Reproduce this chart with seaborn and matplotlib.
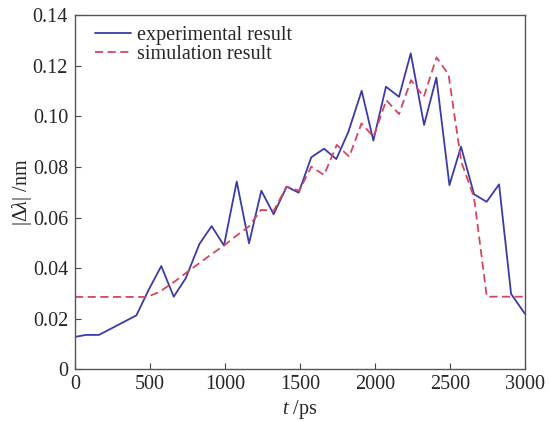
import matplotlib
matplotlib.use("Agg")
import matplotlib.pyplot as plt
import seaborn as sns
import pandas as pd

# experimental result
exp_t = [0, 73, 160, 409, 490, 575, 658, 738, 829, 911, 993, 1078, 1160, 1242,
         1324, 1411, 1491, 1575, 1660, 1742, 1822, 1911, 1989, 2073, 2160, 2238,
         2327, 2409, 2496, 2573, 2660, 2744, 2827, 2907, 3000]
exp_v = [0.0128, 0.0136, 0.0136, 0.0213, 0.0313, 0.0408, 0.0287, 0.0360, 0.0495,
         0.0566, 0.0489, 0.0742, 0.0498, 0.0706, 0.0613, 0.0722, 0.0698, 0.0838,
         0.0872, 0.0831, 0.0938, 0.1101, 0.0904, 0.1117, 0.1077, 0.1249, 0.0966,
         0.1153, 0.0728, 0.0880, 0.0692, 0.0662, 0.0731, 0.0298, 0.0219]

# simulation result
sim_t = [0, 480, 560, 660, 760, 830, 910, 995, 1080, 1160, 1240, 1325, 1410,
         1495, 1575, 1660, 1745, 1828, 1910, 1990, 2075, 2160, 2240, 2325, 2410,
         2490, 2575, 2660, 2745, 3000]
sim_v = [0.0286, 0.0286, 0.0305, 0.0345, 0.0390, 0.0420, 0.0455, 0.0490, 0.0530,
         0.0565, 0.0630, 0.0627, 0.0722, 0.0706, 0.0801, 0.0768, 0.0887, 0.0840,
         0.0972, 0.0919, 0.1064, 0.1009, 0.1143, 0.1077, 0.1233, 0.1165, 0.0820,
         0.0680, 0.0287, 0.0287]

x_ticks = [0, 500, 1000, 1500, 2000, 2500, 3000]
y_ticks = [0, 0.02, 0.04, 0.06, 0.08, 0.10, 0.12, 0.14]
y_ticklabels = ["0", "0.02", "0.04", "0.06", "0.08", "0.10", "0.12", "0.14"]

sns.set_style("ticks")
plt.rcParams["font.family"] = ["Liberation Serif", "DejaVu Serif"]
plt.rcParams["mathtext.fontset"] = "custom"
plt.rcParams["mathtext.rm"] = "Liberation Serif"
plt.rcParams["mathtext.it"] = "Liberation Serif:italic"

df_exp = pd.DataFrame({"t": exp_t, "v": exp_v})
df_sim = pd.DataFrame({"t": sim_t, "v": sim_v})

fig = plt.figure(figsize=(5.5, 4.21), dpi=100)
ax = fig.add_axes([0.1364, 0.1228, 0.8182, 0.8413])

sns.lineplot(data=df_exp, x="t", y="v", ax=ax, color="#3b3ba8", lw=1.3,
             label="experimental result", sort=False)
sns.lineplot(data=df_sim, x="t", y="v", ax=ax, color="#d6455f", lw=1.3,
             label="simulation result", sort=False)
ax.lines[1].set_dashes([4.5, 2.5])

ax.set_xlim(0, 3000)
ax.set_ylim(0, 0.14)
ax.set_xticks(x_ticks)
ax.set_xticklabels([str(t) for t in x_ticks])
ax.set_yticks(y_ticks)
ax.set_yticklabels(y_ticklabels)
ax.tick_params(direction="in", length=4, width=0.8, labelsize=14.5, color="#444444",
               top=False, right=False)
ax.tick_params(axis="x", pad=4)
ax.tick_params(axis="y", pad=5)
for s in ax.spines.values():
    s.set_color("#555555")
    s.set_linewidth(1.0)
    s.set_visible(True)

ax.set_xlabel(r"$t$ /ps", fontsize=14.5, labelpad=3)
ax.set_ylabel(r"$|\Delta\lambda|$ /nm", fontsize=14.5, labelpad=-1)

leg = ax.legend(loc="upper left", bbox_to_anchor=(0.0, 1.026), frameon=False,
                fontsize=14.5, handlelength=1.8, handletextpad=0.3,
                labelspacing=0.0, borderaxespad=0.6, borderpad=0.4)
leg.get_lines()[1].set_dashes([4.5, 2.5])

fig.savefig("out.png", dpi=100)
